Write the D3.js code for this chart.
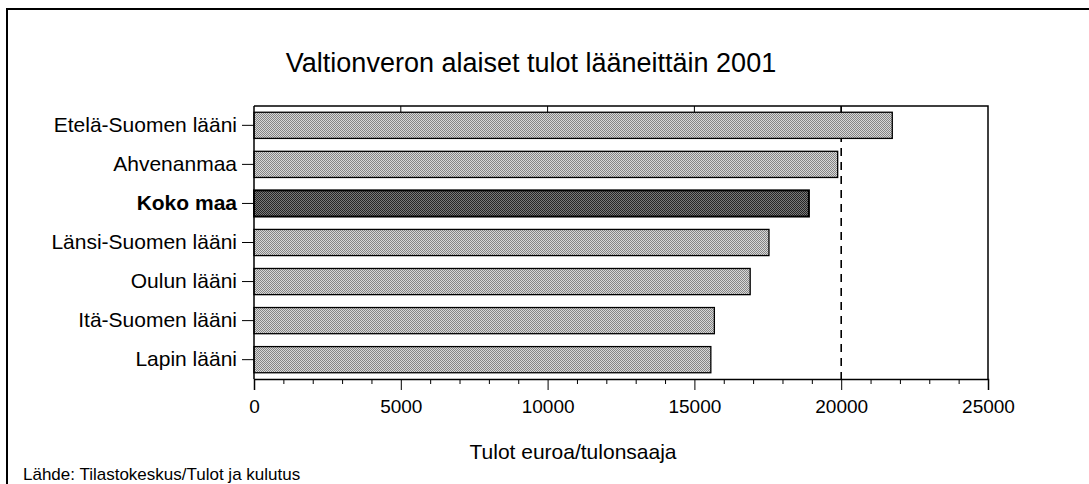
<!DOCTYPE html>
<html>
<head>
<meta charset="utf-8">
<script src="https://cdn.jsdelivr.net/npm/d3@7"></script>
<style>
  html, body { margin: 0; padding: 0; background: #fff; }
  svg { display: block; font-family: "Liberation Sans", Arial, sans-serif; }
</style>
</head>
<body>
<svg id="chart" width="1089" height="484"></svg>
<script>
// Regions (lääni) and their mean taxable income, euro per income earner
const categories = ["Etelä-Suomen lääni", "Ahvenanmaa", "Koko maa", "Länsi-Suomen lääni", "Oulun lääni", "Itä-Suomen lääni", "Lapin lääni"];
const values = [21740, 19880, 18900, 17540, 16900, 15680, 15560];
const highlighted = ["Koko maa"];
const xTicks = [0, 5000, 10000, 15000, 20000, 25000];
const referenceLine = [20000];

const titleText = "Valtionveron alaiset tulot lääneittäin 2001";
const xAxisTitle = "Tulot euroa/tulonsaaja";
const sourceText = "Lähde: Tilastokeskus/Tulot ja kulutus";

const svg = d3.select("#chart");
const plot = { left: 254, right: 988, top: 106, bottom: 379 };

// Dithered grey fills
const defs = svg.append("defs");
function dither(id, a, b) {
  const p = defs.append("pattern").attr("id", id)
    .attr("patternUnits", "userSpaceOnUse").attr("width", 4).attr("height", 4);
  p.append("rect").attr("width", 4).attr("height", 4).attr("fill", a);
  [[0,0],[2,0],[1,1],[3,1],[0,2],[2,2],[1,3],[3,3]].forEach(([x, y]) =>
    p.append("rect").attr("x", x).attr("y", y).attr("width", 1).attr("height", 1).attr("fill", b));
}
dither("greyFill", "#d8d8d8", "#858585");
dither("darkFill", "#7a7a7a", "#262626");

// Outer frame
svg.append("rect").attr("x", 7).attr("y", 9).attr("width", 1100).attr("height", 500)
  .attr("fill", "none").attr("stroke", "#000").attr("stroke-width", 2);

// Title
svg.append("text").attr("x", 531).attr("y", 72).attr("text-anchor", "middle")
  .attr("font-size", 27).attr("fill", "#000").text(titleText);

const x = d3.scaleLinear().domain([0, 25000]).range([plot.left, plot.right]);
const y = d3.scaleBand().domain(categories).range([plot.top, plot.bottom])
  .paddingInner(0.33).paddingOuter(0.16);

// Plot frame (top and right edges)
svg.append("path")
  .attr("d", `M${plot.left},${plot.top}H${plot.right}V${plot.bottom}`)
  .attr("fill", "none").attr("stroke", "#000").attr("stroke-width", 1.5);

// Short ticks hanging from the top edge
svg.append("g").selectAll("line").data(xTicks.slice(1, -1)).join("line")
  .attr("x1", d => x(d)).attr("x2", d => x(d))
  .attr("y1", plot.top).attr("y2", plot.top + 7)
  .attr("stroke", "#000").attr("stroke-width", 1);

// Dashed reference line
svg.append("g").selectAll("line").data(referenceLine).join("line")
  .attr("x1", d => x(d)).attr("x2", d => x(d))
  .attr("y1", plot.top).attr("y2", plot.bottom)
  .attr("stroke", "#000").attr("stroke-width", 1.6)
  .attr("stroke-dasharray", "8,6");

// Bars
svg.append("g").selectAll("rect").data(categories).join("rect")
  .attr("x", x(0))
  .attr("y", d => y(d))
  .attr("width", (d, i) => x(values[i]) - x(0))
  .attr("height", y.bandwidth())
  .attr("fill", d => highlighted.includes(d) ? "url(#darkFill)" : "url(#greyFill)")
  .attr("stroke", "#000")
  .attr("stroke-width", d => highlighted.includes(d) ? 2 : 1.3);

// X axis: major ticks labelled, minor every 1000
const xAxis = d3.axisBottom(x).tickValues(xTicks).tickFormat(d3.format("d"))
  .tickSize(11).tickPadding(10);
const gx = svg.append("g").attr("transform", `translate(0,${plot.bottom})`).call(xAxis);
gx.select(".domain").attr("stroke-width", 1.5);
gx.selectAll(".tick text").attr("font-size", 19).attr("fill", "#000")
  .attr("font-family", "'Liberation Sans', Arial, sans-serif");
svg.append("g").attr("transform", `translate(0,${plot.bottom})`)
  .call(d3.axisBottom(x).tickValues(d3.range(0, 25001, 1000).filter(v => v % 5000 !== 0))
    .tickSize(5).tickFormat(""))
  .call(g => g.select(".domain").remove());

// Y axis
const yAxis = d3.axisLeft(y).tickSize(12).tickPadding(5);
const gy = svg.append("g").attr("transform", `translate(${plot.left},0)`).call(yAxis);
gy.select(".domain").attr("d", `M0,${plot.top}V${plot.bottom}`).attr("stroke-width", 1.5);
gy.selectAll(".tick text").attr("font-size", 21).attr("fill", "#000")
  .attr("font-family", "'Liberation Sans', Arial, sans-serif")
  .attr("font-weight", d => highlighted.includes(d) ? "bold" : "normal");

// Axis title and source
svg.append("text").attr("x", 573).attr("y", 459).attr("text-anchor", "middle")
  .attr("font-size", 21).attr("fill", "#000").text(xAxisTitle);
svg.append("text").attr("x", 23).attr("y", 480)
  .attr("font-size", 17).attr("fill", "#000").text(sourceText);
</script>
</body>
</html>
